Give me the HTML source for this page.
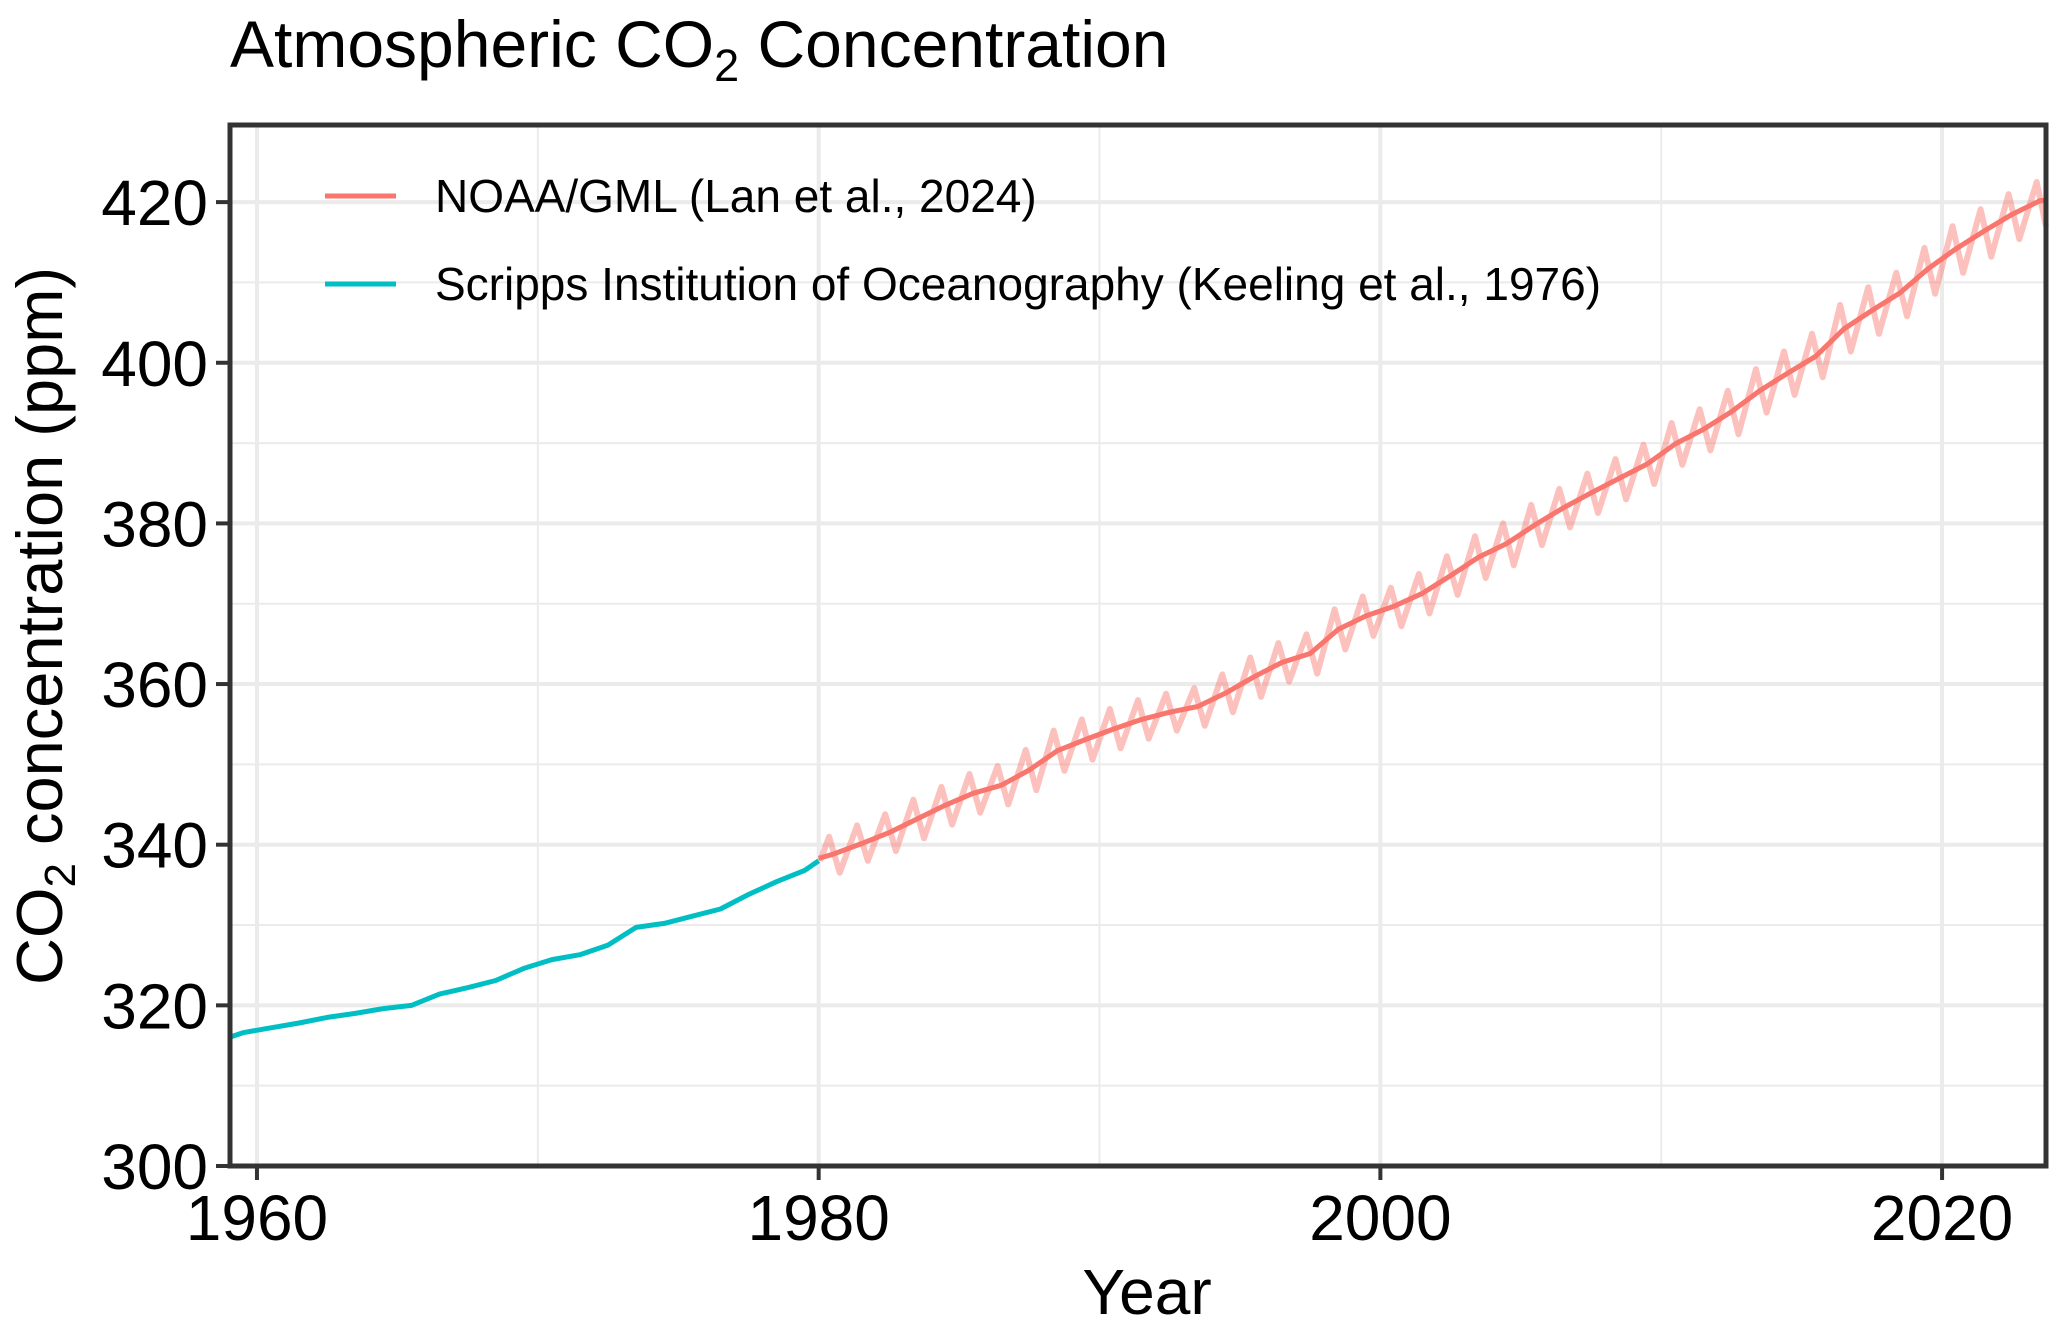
<!DOCTYPE html>
<html><head><meta charset="utf-8"><style>
html,body{margin:0;padding:0;background:#fff;}
svg{display:block;font-family:"Liberation Sans",Arial,sans-serif;}
</style></head><body>
<svg id="chart" width="2067" height="1329" viewBox="0 0 2067 1329" xmlns="http://www.w3.org/2000/svg">
<rect x="0" y="0" width="2067" height="1329" fill="#fff"/>
<text x="230" y="67" font-size="66" fill="#000">Atmospheric CO<tspan font-size="45" dy="14">2</tspan><tspan dy="-14"> Concentration</tspan></text>
<g id="grid"></g>
<g id="series"></g>
<rect x="230" y="125" width="1816" height="1041" fill="none" stroke="#333" stroke-width="5"/>
<g id="axes"></g>
<g>
<line x1="325" y1="196" x2="396" y2="196" stroke="#F8766D" stroke-width="5"/>
<text x="435" y="212" font-size="46" fill="#000">NOAA/GML (Lan et al., 2024)</text>
<line x1="325" y1="284" x2="396" y2="284" stroke="#00BFC4" stroke-width="5"/>
<text x="435" y="300" font-size="46" fill="#000">Scripps Institution of Oceanography (Keeling et al., 1976)</text>
</g>
<text x="1147" y="1314" font-size="64" text-anchor="middle" fill="#000">Year</text>
<text transform="translate(62,626) rotate(-90)" font-size="65" text-anchor="middle" fill="#000">CO<tspan font-size="44" dy="13">2</tspan><tspan dy="-13"> concentration (ppm)</tspan></text>
</svg>
<script>
const xTicks = [1960, 1980, 2000, 2020];
const xMinor = [1970, 1990, 2010];
const yTicks = [300, 320, 340, 360, 380, 400, 420];
const yMinor = [310, 330, 350, 370, 390, 410];
const scrippsYears = [1959.0,1959.5,1960.5,1961.5,1962.5,1963.5,1964.5,1965.5,1966.5,1967.5,1968.5,1969.5,1970.5,1971.5,1972.5,1973.5,1974.5,1975.5,1976.5,1977.5,1978.5,1979.5,1980.0];
const scrippsValues = [316.0,316.6,317.2,317.8,318.5,319.0,319.6,320.0,321.4,322.2,323.1,324.6,325.7,326.3,327.5,329.7,330.2,331.1,332.0,333.8,335.4,336.8,338.0];
const noaaYears = [1980,1981,1982,1983,1984,1985,1986,1987,1988,1989,1990,1991,1992,1993,1994,1995,1996,1997,1998,1999,2000,2001,2002,2003,2004,2005,2006,2007,2008,2009,2010,2011,2012,2013,2014,2015,2016,2017,2018,2019,2020,2021,2022,2023];
const noaaTrend = [338.8,340.1,341.5,343.2,344.9,346.4,347.4,349.3,351.7,353.1,354.4,355.6,356.5,357.2,358.9,360.9,362.7,363.8,366.8,368.5,369.7,371.3,373.5,375.8,377.5,379.8,381.9,383.8,385.6,387.4,389.9,391.7,393.9,396.5,398.7,400.8,404.2,406.5,408.7,411.7,414.2,416.4,418.5,420.2];
const noaaPeak = [341.0,342.4,343.8,345.6,347.2,348.8,349.8,351.8,354.2,355.6,356.9,358.0,358.8,359.5,361.2,363.3,365.1,366.2,369.3,370.9,372.0,373.7,375.9,378.4,380.0,382.3,384.3,386.2,388.0,389.8,392.5,394.2,396.5,399.2,401.4,403.6,407.2,409.4,411.2,414.3,417.0,419.1,421.0,422.5];
const noaaTrough = [336.5,338.0,339.2,340.8,342.5,344.0,345.0,346.8,349.2,350.6,352.0,353.2,354.2,354.8,356.5,358.4,360.3,361.3,364.3,366.0,367.2,368.8,371.1,373.2,374.8,377.3,379.5,381.3,383.0,384.9,387.3,389.1,391.1,393.8,396.0,398.2,401.4,403.6,405.8,408.6,411.2,413.2,415.4,417.0];

const X0=230,X1=2046,Y0=1166,Y1=125;
const XMIN=1959.04,XMAX=2023.7,YMIN=300,YMAX=429.6;
function xs(v){return X0+(v-XMIN)/(XMAX-XMIN)*(X1-X0);}
function ys(v){return Y0-(v-YMIN)/(YMAX-YMIN)*(Y0-Y1);}
const NS='http://www.w3.org/2000/svg';
function mk(tag,attrs,parent){const e=document.createElementNS(NS,tag);for(const k in attrs)e.setAttribute(k,attrs[k]);parent.appendChild(e);return e;}
const grid=document.getElementById('grid'),series=document.getElementById('series'),axes=document.getElementById('axes');
yMinor.forEach(v=>{const l=mk('line',{x1:X0,x2:X1,y1:ys(v),y2:ys(v),stroke:'#EBEBEB','stroke-width':2},grid);

});
xMinor.forEach(v=>{const l=mk('line',{x1:xs(v),x2:xs(v),y1:Y0,y2:Y1,stroke:'#EBEBEB','stroke-width':2},grid);

});
yTicks.forEach(v=>{const l=mk('line',{x1:X0,x2:X1,y1:ys(v),y2:ys(v),stroke:'#EBEBEB','stroke-width':4},grid);


const t=mk('line',{x1:X0-14,x2:X0,y1:ys(v),y2:ys(v),stroke:'#333','stroke-width':4},axes);


const tx=mk('text',{x:X0-22,y:ys(v)+23,'font-size':64,'text-anchor':'end',fill:'#000'},axes);tx.textContent=v;

});
xTicks.forEach(v=>{const l=mk('line',{x1:xs(v),x2:xs(v),y1:Y0,y2:Y1,stroke:'#EBEBEB','stroke-width':4},grid);


const t=mk('line',{x1:xs(v),x2:xs(v),y1:Y0,y2:Y0+14,stroke:'#333','stroke-width':4},axes);


const tx=mk('text',{x:xs(v),y:Y0+74,'font-size':64,'text-anchor':'middle',fill:'#000'},axes);tx.textContent=v;

});
let sp=[];
noaaYears.forEach((y,i)=>{ if(i===0) sp.push([y+0.05,noaaTrend[i]-0.8]); if(y+0.37<=XMAX) sp.push([y+0.37,noaaPeak[i]]); if(y+0.75<=XMAX) sp.push([y+0.75,noaaTrough[i]]); });
sp.push([XMAX,noaaTrough[noaaTrough.length-1]]);
const pale=mk('path',{d:'M'+sp.map(p=>xs(p[0]).toFixed(1)+','+ys(p[1]).toFixed(1)).join('L'),fill:'none',stroke:'#F8766D','stroke-opacity':0.45,'stroke-width':6,'stroke-linejoin':'round'},series);


let tp=[[1980.0,338.3]];
noaaYears.forEach((y,i)=>{ if(y+0.5<=XMAX) tp.push([y+0.5,noaaTrend[i]]); });
tp.push([XMAX,noaaTrend[noaaTrend.length-1]]);
const tr=mk('path',{d:'M'+tp.map(p=>xs(p[0]).toFixed(1)+','+ys(p[1]).toFixed(1)).join('L'),fill:'none',stroke:'#F8766D','stroke-width':5,'stroke-linejoin':'round'},series);


const sc=mk('path',{d:'M'+scrippsYears.map((y,i)=>xs(y).toFixed(1)+','+ys(scrippsValues[i]).toFixed(1)).join('L'),fill:'none',stroke:'#00BFC4','stroke-width':5,'stroke-linejoin':'round'},series);


</script>
</body></html>
